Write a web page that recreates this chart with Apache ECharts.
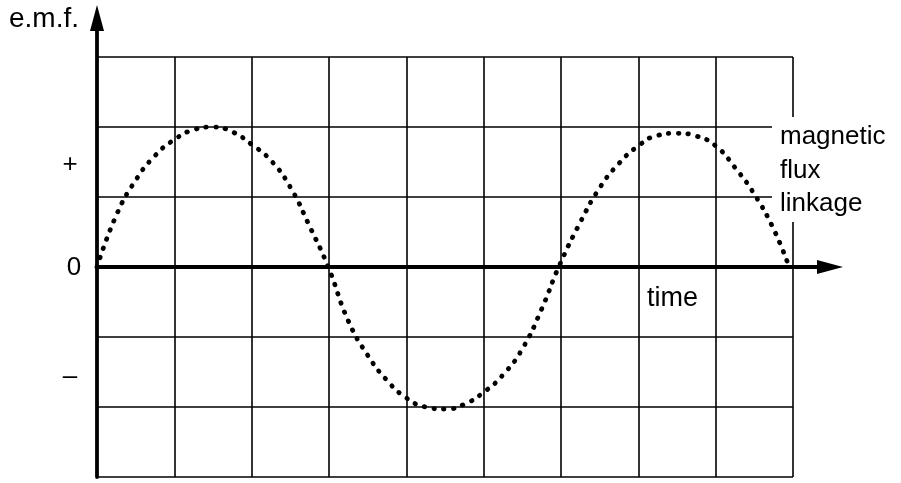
<!DOCTYPE html>
<html>
<head>
<meta charset="utf-8">
<script src="https://cdn.jsdelivr.net/npm/echarts@6/dist/echarts.min.js"></script>
<style>
  html, body { margin: 0; padding: 0; background: #fff; }
  #chart { width: 901px; height: 483px; }
</style>
</head>
<body>
<div id="chart"></div>
<script>
/************************************************************************************/
// data: time in grid cells, e.m.f. in grid rows
/************************************************************************************/
var tValues = [0, 0.25, 0.5, 0.75, 1, 1.25, 1.5, 1.75, 2, 2.25, 2.5, 2.75, 2.99,
               3.25, 3.5, 3.75, 4, 4.25, 4.5, 4.75, 5, 5.25, 5.5, 5.75, 5.97,
               6.25, 6.5, 6.75, 7, 7.25, 7.5, 7.75, 8, 8.25, 8.5, 8.75, 8.95];
var emfValues = [0, 0.74, 1.24, 1.59, 1.82, 1.96, 2.0, 1.93, 1.75, 1.52, 1.14, 0.58, 0,
                 -0.77, -1.26, -1.62, -1.87, -2.0, -2.03, -1.96, -1.79, -1.54, -1.17, -0.6, 0,
                 0.64, 1.13, 1.48, 1.73, 1.88, 1.91, 1.87, 1.73, 1.42, 1.04, 0.54, 0];
var sideLabels = ['+', '0', '\u2013'];
var curveLabel = ['magnetic', 'flux', 'linkage'];
var xName = 'time';
var yName = 'e.m.f.';

var FONT = '26px "Liberation Sans", Arial, sans-serif';

var pairs = [];
for (var i = 0; i < tValues.length; i++) {
    pairs.push([tValues[i], emfValues[i]]);
}

// 网格线（grid 0）与箭头坐标轴（grid 1）
var hidden = { show: false };
var gridAxis = function (idx, min, max) {
    return {
        type: 'value', gridIndex: idx, min: min, max: max, interval: 1,
        axisLine: hidden, axisTick: hidden, axisLabel: hidden,
        splitLine: { show: true, lineStyle: { color: '#000', width: 1.6 } }
    };
};
var arrowAxis = function (idx, min, max) {
    return {
        type: 'value', gridIndex: idx, min: min, max: max,
        axisLine: {
            show: true, onZero: true,
            symbol: ['none', 'triangle'], symbolSize: [14, 26],
            lineStyle: { color: '#000', width: 3.8 }
        },
        axisTick: hidden, axisLabel: hidden, splitLine: hidden
    };
};

var textEl = function (x, y, str, align, font) {
    return {
        type: 'text', z: 10, x: x, y: y,
        style: { text: str, font: font || FONT, fill: '#000', align: align || 'left', verticalAlign: 'middle' }
    };
};

var graphics = [
    // 文字后面的网格线被遮住
    { type: 'rect', z: 5, shape: { x: 772, y: 117, width: 129, height: 105 }, style: { fill: '#fff' } },
    textEl(9, 19, yName, 'left', '28px "Liberation Sans", Arial, sans-serif'),
    textEl(70, 165, sideLabels[0], 'center'),
    textEl(74, 268, sideLabels[1], 'center'),
    textEl(70, 377, sideLabels[2], 'center'),
    textEl(647, 299, xName, 'left', '27px "Liberation Sans", Arial, sans-serif'),
    textEl(780, 137, curveLabel[0]),
    textEl(780, 171, curveLabel[1]),
    textEl(780, 204, curveLabel[2])
];

var myChart = echarts.init(document.getElementById('chart'));
var option = {
    animation: false,
    backgroundColor: '#fff',
    grid: [
        { left: 97, top: 57, width: 696, height: 420 },
        { left: 97, top: 18, right: 71, bottom: 6 }
    ],
    xAxis: [gridAxis(0, 0, 9), arrowAxis(1, 0, 9.48)],
    yAxis: [gridAxis(0, -3, 3), arrowAxis(1, -3, 3.557)],
    graphic: graphics,
    series: [{
        type: 'line',
        xAxisIndex: 0, yAxisIndex: 0,
        data: pairs,
        smooth: 0.5,
        showSymbol: false,
        z: 3,
        lineStyle: { color: '#000', width: 4.8, type: [0.5, 9.3], cap: 'round' }
    }]
};
myChart.setOption(option);
</script>
</body>
</html>
